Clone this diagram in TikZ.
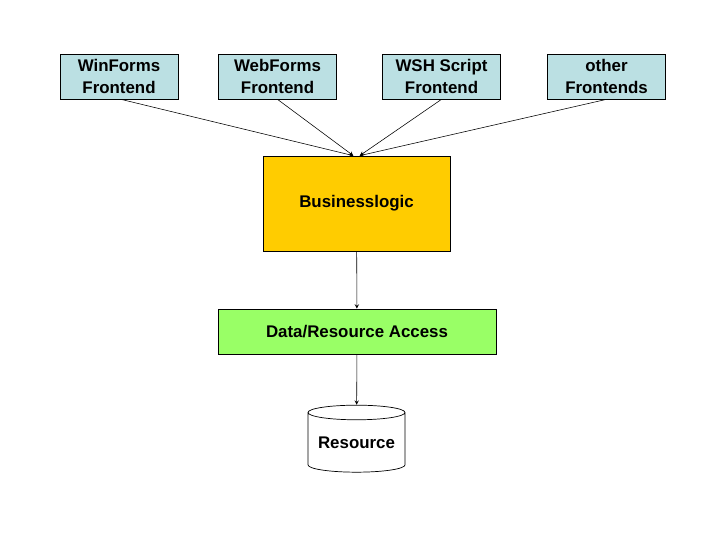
\documentclass[tikz,border=0pt]{standalone}
\usepackage{fontspec}
\setmainfont{Liberation Sans}
\usepackage{tikz}
\usetikzlibrary{arrows.meta, positioning, shapes.geometric}
\definecolor{frontblue}{HTML}{BBE0E3}
\definecolor{logicgold}{HTML}{FFCC00}
\definecolor{accessgreen}{HTML}{99FF66}
\tikzset{
  layerbox/.style={draw, line width=0.5pt, font=\bfseries\fontsize{12pt}{15.5pt}\selectfont, align=center, inner sep=0pt},
  frontbox/.style={layerbox, fill=frontblue, minimum width=118*0.025cm, minimum height=45*0.025cm},
  flow/.style={->, >=stealth, line width=0.4pt}
}
\begin{document}
\begin{tikzpicture}[x=0.025cm, y=-0.025cm]
    \useasboundingbox (0,0) rectangle (720,540);
    \node[frontbox] (winforms) at (119,76.5) {WinForms\\Frontend}; %Frontends
    \node[frontbox] (webforms) at (277.5,76.5) {WebForms\\Frontend};
    \node[frontbox] (wsh) at (441.5,76.5) {WSH Script\\Frontend};
    \node[frontbox] (other) at (606.5,76.5) {other\\Frontends};
    \node[layerbox, fill=logicgold, minimum width=187*0.025cm, minimum height=95*0.025cm] (logic) at (356.5,203.5) {Businesslogic}; %Logik
    \node[layerbox, fill=accessgreen, minimum width=278*0.025cm, minimum height=45*0.025cm] (access) at (357,331.5) {Data/Resource Access}; %Zugriff
    \node[layerbox, fill=white, cylinder, shape border rotate=90, shape aspect=0.19, minimum width=97*0.025cm, minimum height=67*0.025cm] (resource) at (356.5,442.5) {Resource}; %Ressource
    \coordinate (inleft) at ([xshift=-0.08cm]logic.north);
    \coordinate (inright) at ([xshift=0.08cm]logic.north);
    \draw[flow] ([xshift=0.05cm]winforms.south) -- (inleft);
    \draw[flow] (webforms.south) -- (inleft);
    \draw[flow] (wsh.south) -- (inright);
    \draw[flow] (other.south) -- (inright);
    \draw[flow] (logic) -- (access);
    \draw[flow] (access) -- (resource);
\end{tikzpicture}
\end{document}
